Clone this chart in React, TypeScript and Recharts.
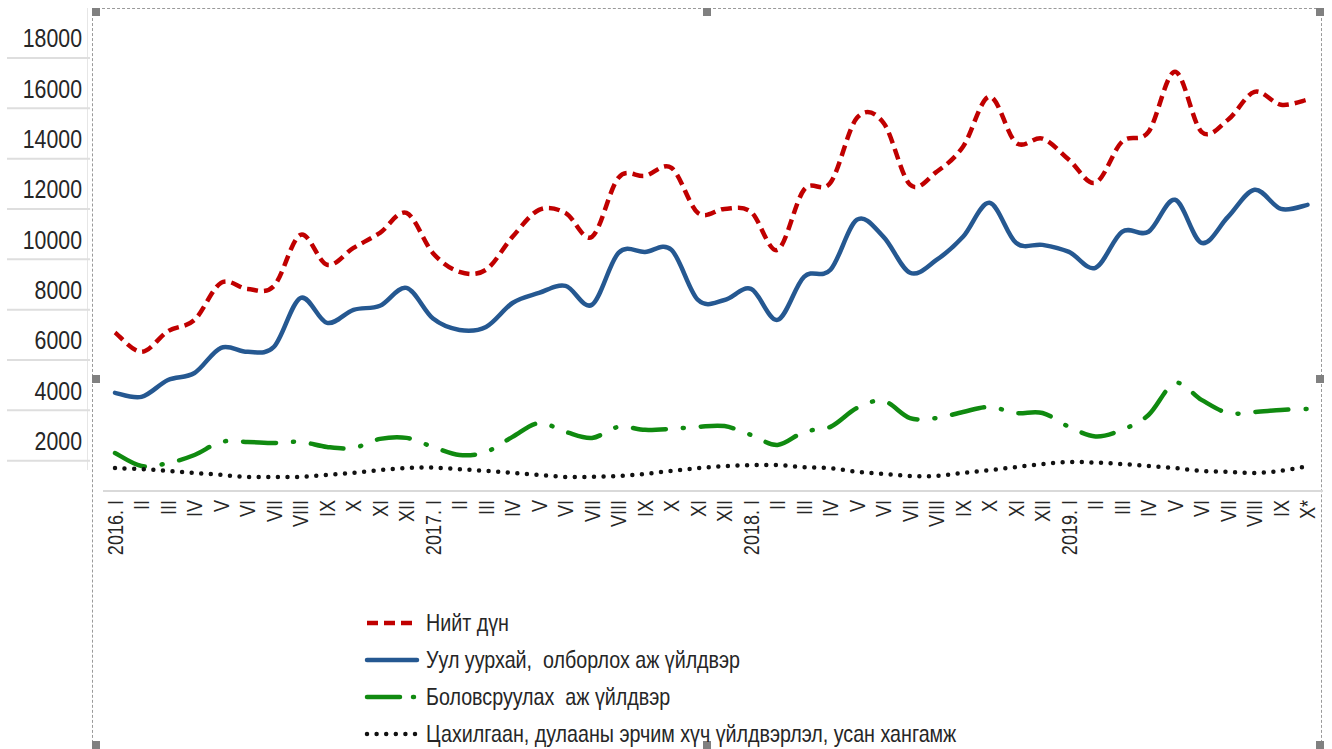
import React from "react"
import { LineChart, Line, XAxis, YAxis } from "recharts"

// 2016.I .. 2019.X (X* is preliminary)
const periods = [
  "2016. I", "II", "III", "IV", "V", "VI", "VII", "VIII", "IX", "X", "XI", "XII",
  "2017. I", "II", "III", "IV", "V", "VI", "VII", "VIII", "IX", "X", "XI", "XII",
  "2018. I", "II", "III", "IV", "V", "VI", "VII", "VIII", "IX", "X", "XI", "XII",
  "2019. I", "II", "III", "IV", "V", "VI", "VII", "VIII", "IX", "X*",
]

const total = [
  6300, 5530, 6350, 6800, 8270, 8030, 8150, 10180, 8990, 9660, 10260, 11050,
  9450, 8710, 8790, 10100, 11170, 11050, 10100, 12450, 12520, 12840, 11050, 11210,
  11090, 9580, 11970, 12250, 14830, 14630, 12170, 12680, 13680, 15670, 13840, 14000,
  13160, 12250, 13880, 14270, 16660, 14270, 14750, 15860, 15350, 15550,
]

const mining = [
  3900, 3740, 4410, 4690, 5690, 5530, 5730, 7670, 6680, 7200, 7360, 8070,
  6850, 6400, 6520, 7470, 7870, 8150, 7400, 9460, 9500, 9580, 7590, 7590,
  8030, 6800, 8510, 8790, 10780, 10100, 8670, 9180, 10100, 11450, 9860, 9780,
  9500, 8870, 10300, 10300, 11570, 9860, 10890, 11970, 11210, 11370,
]

const manufacturing = [
  1510, 990, 1110, 1430, 1950, 1950, 1910, 1950, 1750, 1710, 2070, 2110,
  1750, 1430, 1550, 2150, 2700, 2350, 2110, 2550, 2430, 2470, 2550, 2580,
  2230, 1830, 2350, 2550, 3300, 3580, 2900, 2900, 3140, 3340, 3100, 3100,
  2550, 2170, 2430, 3020, 4290, 3620, 3100, 3140, 3220, 3260,
]

const utilities = [
  910, 870, 800, 720, 640, 560, 560, 560, 640, 720, 830, 910,
  930, 870, 800, 720, 640, 560, 560, 600, 680, 800, 910, 990,
  1030, 1030, 950, 910, 760, 680, 600, 600, 720, 830, 950, 1070,
  1150, 1130, 1070, 990, 910, 800, 760, 720, 800, 990,
]

const yTicks = [2000, 4000, 6000, 8000, 10000, 12000, 14000, 16000, 18000]

const seriesNames = [
  "Нийт дүн",
  "Уул уурхай,  олборлох аж үйлдвэр",
  "Боловсруулах  аж үйлдвэр",
  "Цахилгаан, дулааны эрчим хүч үйлдвэрлэл, усан хангамж",
]

const data = periods.map((p, i) => ({
  period: p,
  total: total[i],
  mining: mining[i],
  manufacturing: manufacturing[i],
  utilities: utilities[i],
}))

const FONT = "'Liberation Sans', Arial, sans-serif"
const NARROW = 0.82

// Excel-style smoothing: catmull-rom segments as cubic beziers
function smoothCurve(context: any) {
  let pts: [number, number][] = []
  return {
    areaStart() {},
    areaEnd() {},
    lineStart() {
      pts = []
    },
    point(x: number, y: number) {
      pts.push([+x, +y])
    },
    lineEnd() {
      const n = pts.length
      if (!n) return
      context.moveTo(pts[0][0], pts[0][1])
      for (let i = 0; i < n - 1; i++) {
        const p0 = pts[Math.max(0, i - 1)]
        const p1 = pts[i]
        const p2 = pts[i + 1]
        const p3 = pts[Math.min(n - 1, i + 2)]
        context.bezierCurveTo(
          p1[0] + (p2[0] - p0[0]) / 6,
          p1[1] + (p2[1] - p0[1]) / 6,
          p2[0] - (p3[0] - p1[0]) / 6,
          p2[1] - (p3[1] - p1[1]) / 6,
          p2[0],
          p2[1]
        )
      }
    },
  }
}

const series = [
  { key: "total", color: "#c00000", width: 4.5, dash: "11 6", legendDash: "11 6", cap: "butt" as const },
  { key: "mining", color: "#255891", width: 4.5, dash: undefined, legendDash: undefined, cap: "round" as const },
  { key: "manufacturing", color: "#108a10", width: 4.5, dash: "33 17 1 17", legendDash: "33 13 1 17", cap: "round" as const },
  { key: "utilities", color: "#111111", width: 4.5, dash: "0 9.6", legendDash: "0 9.6", cap: "round" as const },
]

function YTick(props: any) {
  const { x, y, payload } = props
  return (
    <g>
      <text
        transform={`translate(${x},${y}) scale(${NARROW},1)`}
        textAnchor="end"
        dy="0.36em"
        fontSize={26}
        fontFamily={FONT}
        fill="#262626"
      >
        {payload.value}
      </text>
      <line x1={7} x2={90} y1={y + 20} y2={y + 20} stroke="#dedede" strokeWidth={2} />
    </g>
  )
}

function XTick(props: any) {
  const { x, y, payload } = props
  return (
    <text
      transform={`translate(${x},${y}) rotate(-90) scale(${NARROW},1)`}
      textAnchor="end"
      dy="0.36em"
      fontSize={22}
      fontFamily={FONT}
      fill="#262626"
    >
      {payload.value}
    </text>
  )
}

function LegendSample({ s }: { s: (typeof series)[number] }) {
  return (
    <svg width={56} height={10} style={{ display: "block" }}>
      <line
        x1={3}
        x2={53}
        y1={5}
        y2={5}
        stroke={s.color}
        strokeWidth={s.width}
        strokeDasharray={s.legendDash}
        strokeLinecap={s.cap}
      />
    </svg>
  )
}

const handle = (left: number, top: number) => (
  <div
    key={`${left}-${top}`}
    style={{ position: "absolute", left, top, width: 8, height: 8, background: "#808080" }}
  />
)

export default function App() {
  return (
    <div
      style={{
        position: "absolute",
        left: 0,
        top: 0,
        width: 1332,
        height: 749,
        background: "#ffffff",
        overflow: "hidden",
        fontFamily: FONT,
      }}
    >
      {/* selection frame around the picture */}
      <div
        style={{
          position: "absolute",
          left: 92,
          top: 8,
          width: 1230,
          height: 760,
          border: "1px dashed #9a9a9a",
          boxSizing: "border-box",
        }}
      />
      <div style={{ position: "absolute", left: 87, top: 8, width: 1, height: 462, background: "#e6e6e6" }} />
      {[
        [92, 8], [703, 8], [1316, 8],
        [92, 375], [1316, 375],
        [92, 741], [703, 741], [1316, 741],
      ].map(([l, t]) => handle(l, t))}

      <div style={{ position: "absolute", left: 0, top: 0 }}>
        <LineChart
          width={1332}
          height={749}
          data={data}
          margin={{ top: 38, right: 9, bottom: 158, left: 0 }}
        >
          <XAxis
            dataKey="period"
            interval={0}
            height={100}
            padding={{ left: 12, right: 15.5 }}
            axisLine={{ stroke: "#d9d9d9", strokeWidth: 2 }}
            tickLine={false}
            tickSize={0}
            tickMargin={9}
            tick={<XTick />}
          />
          <YAxis
            width={103}
            domain={[0, 18000]}
            ticks={yTicks}
            interval={0}
            axisLine={false}
            tickLine={false}
            tickSize={0}
            tickMargin={21}
            tick={<YTick />}
          />
          {series.map((s) => (
            <Line
              key={s.key}
              type={smoothCurve as any}
              dataKey={s.key}
              stroke={s.color}
              strokeWidth={s.width}
              strokeDasharray={s.dash}
              strokeLinecap={s.cap}
              strokeLinejoin="round"
              dot={false}
              activeDot={false}
              isAnimationActive={false}
            />
          ))}
        </LineChart>
      </div>

      {/* legend */}
      <div style={{ position: "absolute", left: 364, top: 604 }}>
        {series.map((s, i) => (
          <div key={s.key} style={{ display: "flex", alignItems: "center", height: 37 }}>
            <LegendSample s={s} />
            <div
              style={{
                marginLeft: 6,
                fontSize: 24,
                color: "#262626",
                whiteSpace: "pre",
                transform: `scaleX(${NARROW})`,
                transformOrigin: "left center",
              }}
            >
              {seriesNames[i]}
            </div>
          </div>
        ))}
      </div>
    </div>
  )
}
